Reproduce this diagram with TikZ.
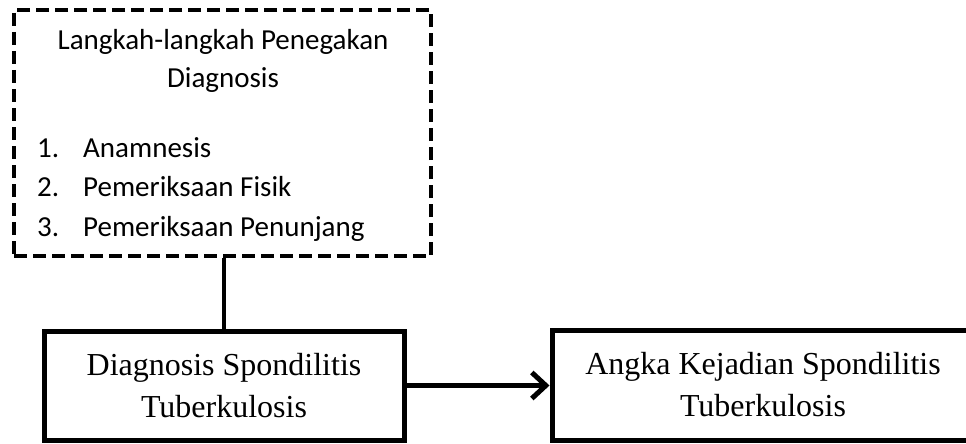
\documentclass[tikz,border=0pt]{standalone}
\usepackage{fontspec}
\setmainfont{Liberation Serif}
\newfontfamily\calfont{Carlito}
\usepackage{tikz}
\usetikzlibrary{arrows.meta, positioning}

\begin{document}
\begin{tikzpicture}[
    x=1pt, y=-1pt,
    stepsbox/.style={rectangle, draw, line width=4pt, dash pattern=on 13pt off 6pt, inner sep=0pt, minimum width=417pt, minimum height=246pt},
    mainbox/.style={rectangle, draw, line width=5pt, inner sep=0pt, align=center, font=\fontsize{32}{42}\selectfont},
    steptext/.style={font=\calfont\fontsize{29}{36}\selectfont, inner sep=0pt},
    link/.style={line width=4pt},
    arrow/.style={line width=5pt, -{Straight Barb[length=14pt, width=26pt]}}
]
    \useasboundingbox (0,0) rectangle (966,444);

    % Diagnostic steps
    \node[stepsbox] (steps) at (222.5,133) {};
    \node[steptext, anchor=base] (title1) at (223,49) {Langkah-langkah Penegakan};
    \node[steptext, anchor=base] (title2) at (223,88) {Diagnosis};
    \node[steptext, anchor=base west] (num1) at (37,157) {1.};
    \node[steptext, anchor=base west] (item1) at (83,157) {Anamnesis};
    \node[steptext, anchor=base west] (num2) at (37,196) {2.};
    \node[steptext, anchor=base west] (item2) at (83,196) {Pemeriksaan Fisik};
    \node[steptext, anchor=base west] (num3) at (37,236) {3.};
    \node[steptext, anchor=base west] (item3) at (83,236) {Pemeriksaan Penunjang};

    % Diagnosis and incidence
    \node[mainbox, minimum width=360pt, minimum height=109pt] (diag) at (224,385.5) {Diagnosis Spondilitis\\Tuberkulosis};
    \node[mainbox, minimum width=422pt, minimum height=110pt] (incid) at (763,385) {Angka Kejadian Spondilitis\\Tuberkulosis};

    % Connectors
    \draw[link] (diag.north) -- (diag.north |- steps.south);
    \draw[arrow] (diag.east) -- (diag.east -| incid.west);
\end{tikzpicture}
\end{document}
